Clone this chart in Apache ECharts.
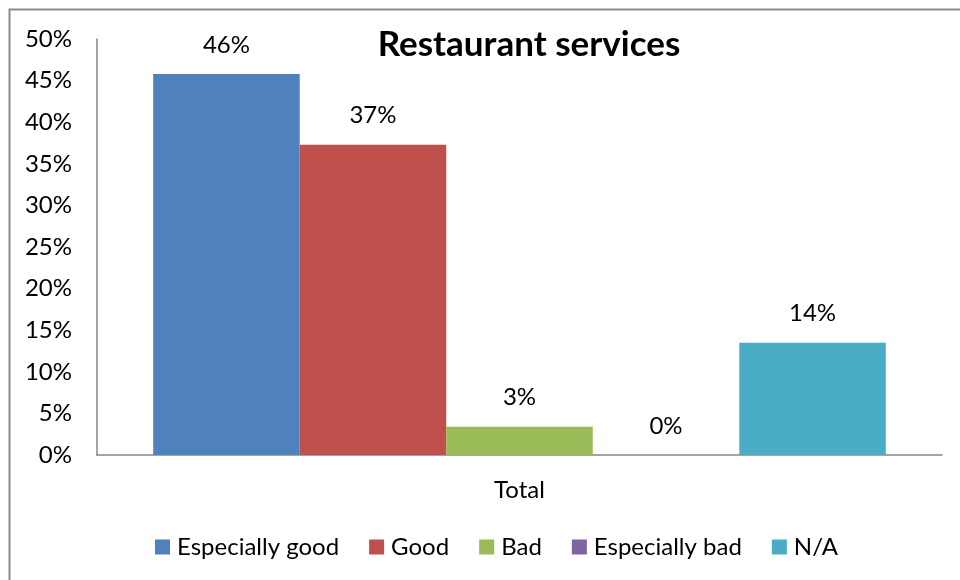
<!DOCTYPE html>
<html>
<head>
<meta charset="utf-8">
<script src="https://cdn.jsdelivr.net/npm/echarts@6/dist/echarts.min.js"></script>
<style>
  html, body { margin: 0; padding: 0; background: #fff; }
  #chart { width: 960px; height: 580px; }
</style>
</head>
<body>
<div id="chart"></div>
<script>
// Survey results: share of answers per rating
const categories = ['Total'];
const seriesNames = ['Especially good', 'Good', 'Bad', 'Especially bad', 'N/A'];
const seriesValues = [0.458, 0.373, 0.034, 0, 0.135];
const seriesColors = ['#4F81BD', '#C0504D', '#9BBB59', '#8064A2', '#4BACC6'];
const yTicks = { min: 0, max: 0.5, interval: 0.05 };

const FONT = 'Lato, "Open Sans", sans-serif';
const FS = 24;
const pct = v => Math.round(v * 100) + '%';

const chart = echarts.init(document.getElementById('chart'), null, { renderer: 'canvas' });

chart.setOption({
  backgroundColor: '#ffffff',
  animation: false,
  title: {
    text: 'Restaurant services',
    left: 524,
    top: 22,
    textAlign: 'center',
    textStyle: { fontFamily: FONT, fontWeight: 'bold', fontSize: 35, color: '#000' }
  },
  graphic: [{
    type: 'rect',
    shape: { x: 9.5, y: 9.5, width: 1000, height: 1000 },
    style: { fill: 'none', stroke: '#8a8a8a', lineWidth: 2 },
    silent: true
  }],
  legend: {
    data: seriesNames,
    top: 530,
    left: 150,
    itemWidth: 15,
    itemHeight: 15,
    itemGap: 30,
    icon: 'rect',
    textStyle: { fontFamily: FONT, fontSize: FS, color: '#000', padding: [0, 0, 0, 2] }
  },
  grid: { left: 97, right: 18, top: 39, bottom: 125, containLabel: false },
  xAxis: {
    type: 'category',
    data: categories,
    axisLine: { lineStyle: { color: '#868686', width: 1.5 } },
    axisTick: { show: false },
    axisLabel: { fontFamily: FONT, fontSize: FS, color: '#000', margin: 23 }
  },
  yAxis: {
    type: 'value',
    min: yTicks.min,
    max: yTicks.max,
    interval: yTicks.interval,
    axisLine: { show: true, lineStyle: { color: '#868686', width: 1.5 } },
    axisTick: { show: false },
    splitLine: { show: false },
    axisLabel: { fontFamily: FONT, fontSize: FS, color: '#000', margin: 25, formatter: pct }
  },
  series: seriesNames.map((name, i) => ({
    name,
    type: 'bar',
    data: [seriesValues[i]],
    barGap: '0%',
    barCategoryGap: '13.3%',
    itemStyle: { color: seriesColors[i] },
    label: {
      show: true,
      position: 'top',
      distance: 17,
      formatter: p => pct(p.value),
      fontFamily: FONT,
      fontSize: FS,
      color: '#000'
    }
  }))
});
</script>
</body>
</html>
